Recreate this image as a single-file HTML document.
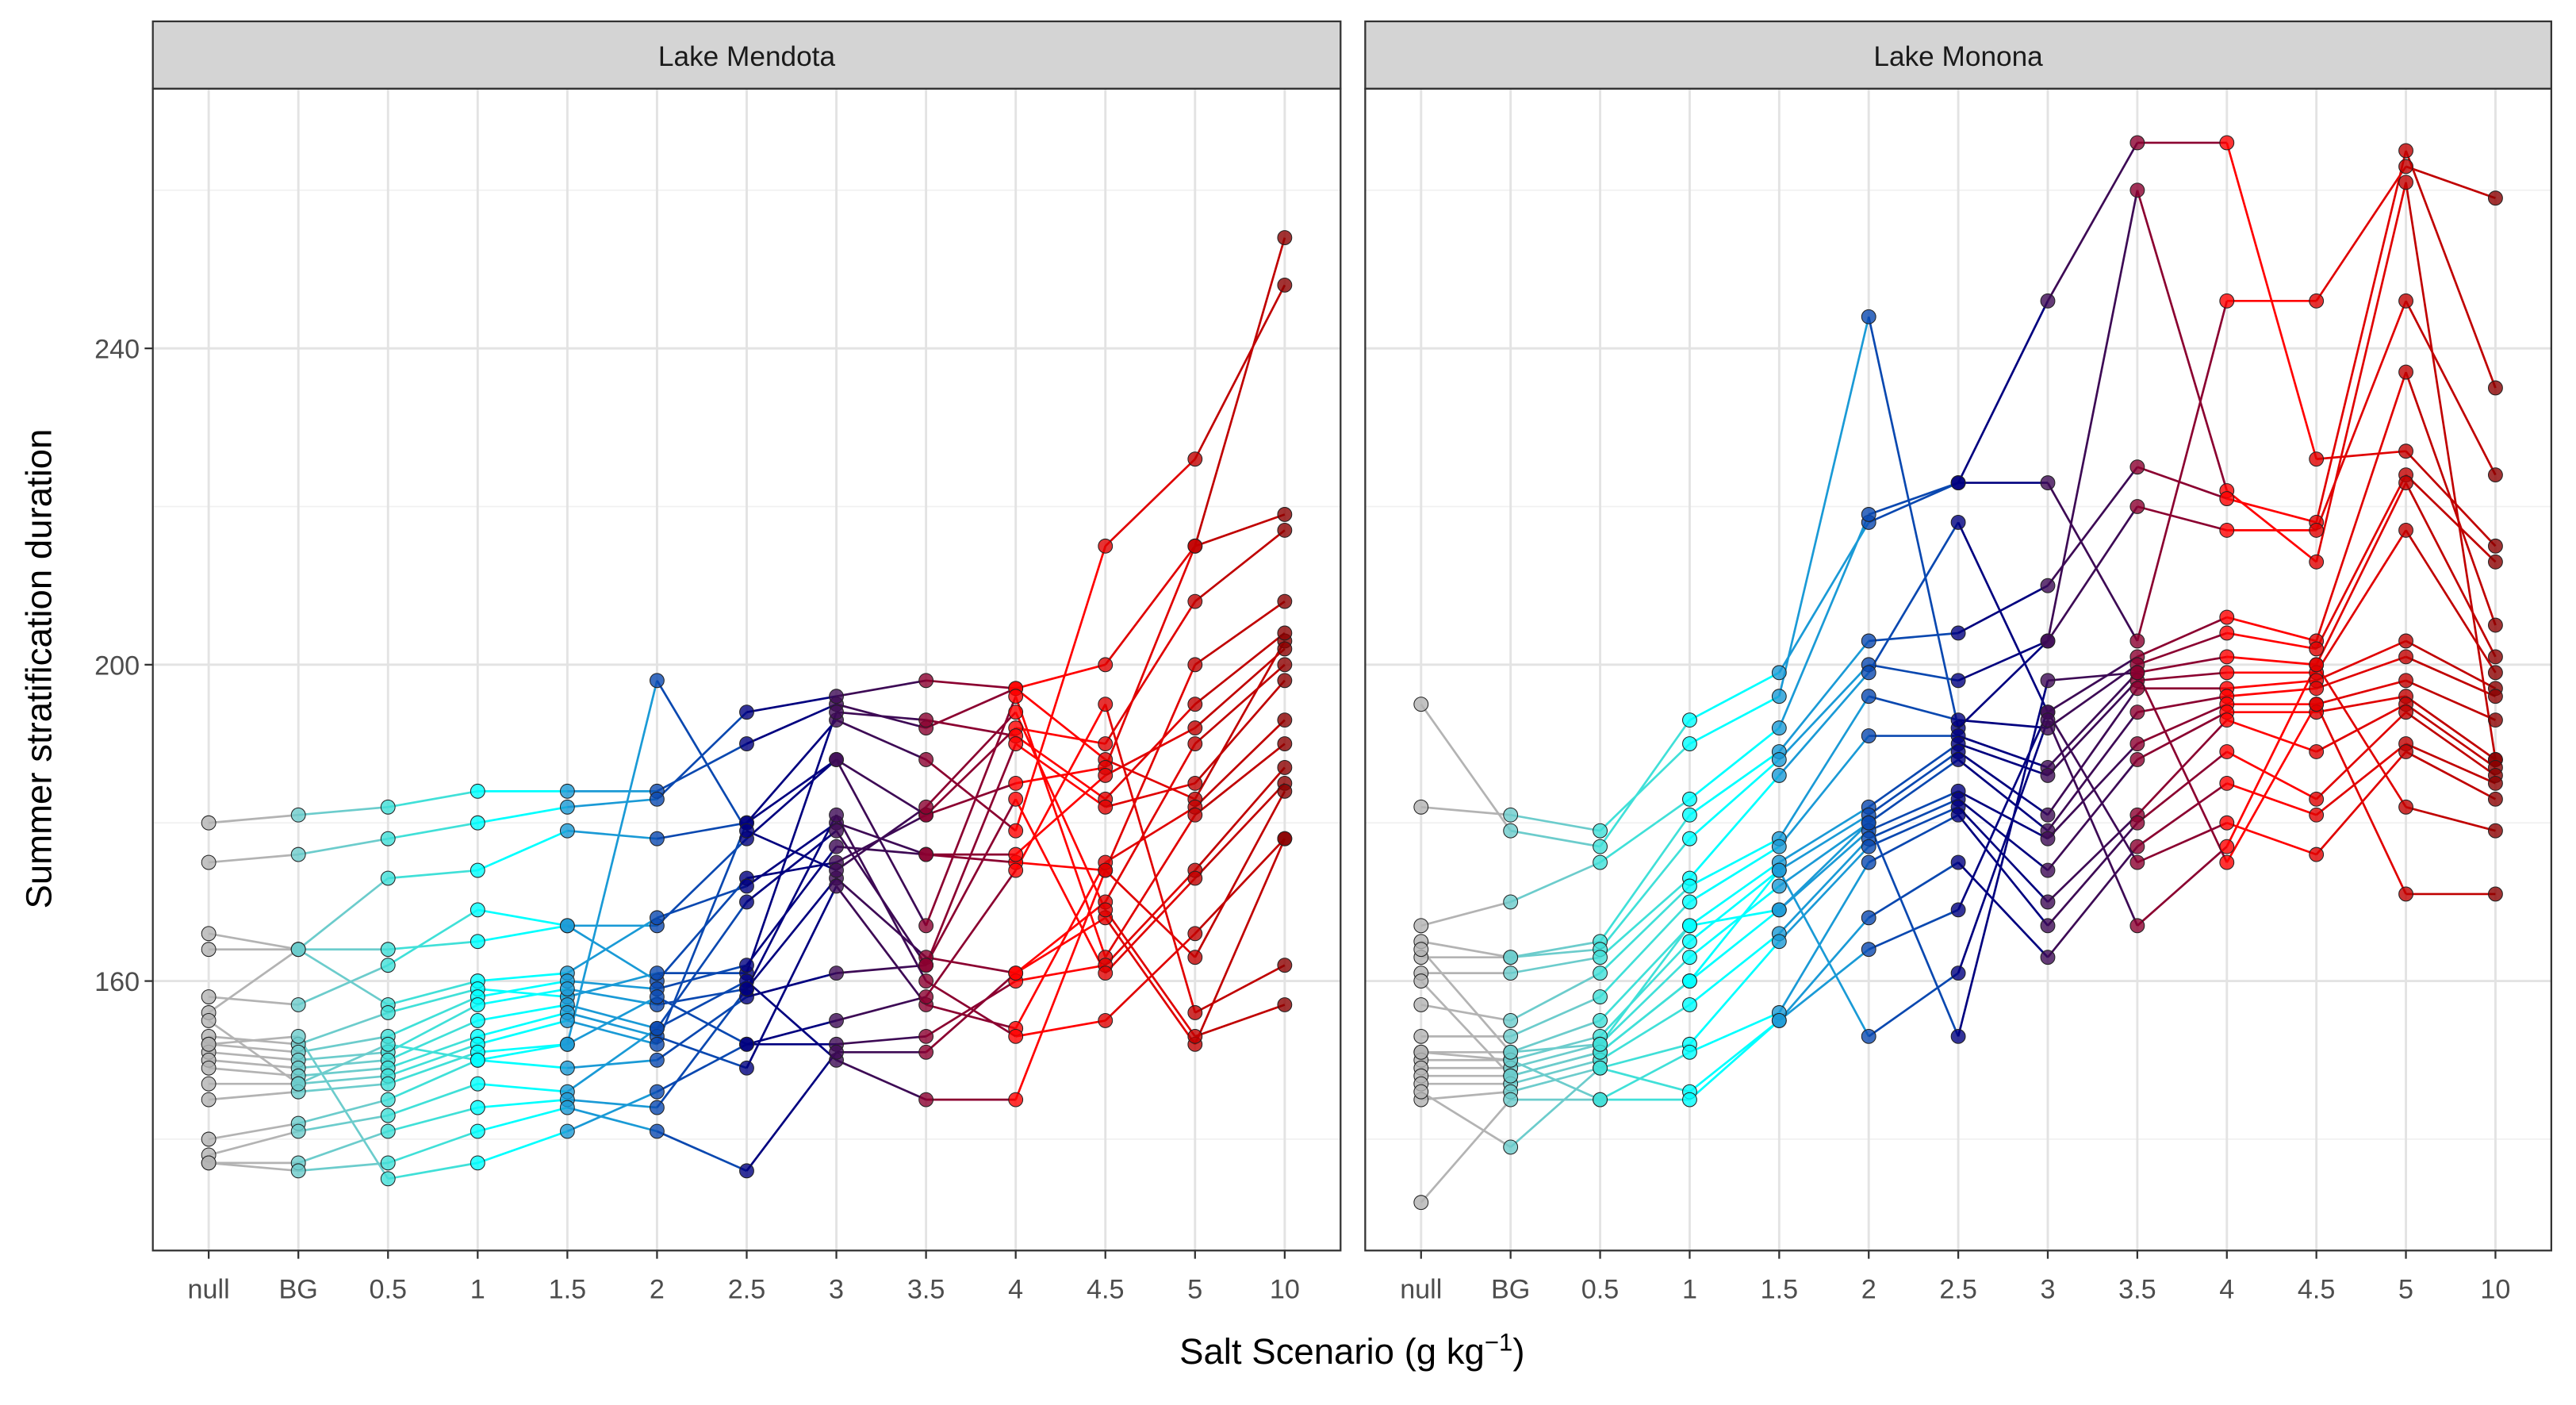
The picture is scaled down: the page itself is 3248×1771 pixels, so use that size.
<!DOCTYPE html>
<html><head><meta charset="utf-8"><style>
html,body{margin:0;padding:0;background:#fff}
svg{display:block;font-family:"Liberation Sans",Arial,sans-serif}
</style></head><body>
<svg id="chart" width="3248" height="1771" viewBox="0 0 1568 855" xmlns="http://www.w3.org/2000/svg">
<g id="root"></g>
</svg>
<script>
const categories = ["null","BG","0.5","1","1.5","2","2.5","3","3.5","4","4.5","5","10"];
const catColors = ["#b3b3b3","#6ccccc","#40e0d8","#00ffff","#1a9ad6","#0a48b0","#00007f","#3d0a55","#8b0030","#ff0000","#e00000","#c00000","#8b0000"];
const yTicks = [160,200,240];
const yMinor = [140,180,220,260];
const panelTitles = ["Lake Mendota","Lake Monona"];
const mendota = [
[180,181,182,184,184,184,190,195,192,197,188,183,203],
[175,176,178,180,182,183,194,196,198,197,200,215,254],
[166,164,173,174,179,178,180,193,188,179,215,226,248],
[164,164,164,165,167,167,178,188,181,185,187,215,219],
[158,157,162,169,167,160,173,175,181,192,190,208,217],
[156,164,157,160,161,168,172,180,176,175,174,200,208],
[153,152,156,159,158,161,161,194,193,191,183,195,204],
[152,151,153,158,160,159,162,177,176,176,186,192,202],
[151,150,151,157,159,157,159,173,163,161,170,190,200],
[150,149,150,155,157,154,170,179,162,190,182,185,198],
[149,148,149,153,156,153,149,172,157,154,175,182,193],
[147,147,148,152,155,152,180,188,167,196,163,181,190],
[145,146,147,151,152,158,152,152,153,160,162,174,187],
[140,142,145,150,149,150,158,161,162,183,161,173,185],
[138,141,143,147,146,154,160,150,145,145,174,163,184],
[137,137,141,144,145,144,159,181,160,153,155,166,178],
[137,136,137,141,144,141,136,151,151,161,168,152,178],
[152,153,135,137,141,146,152,155,158,174,195,156,162],
[155,147,152,150,152,198,179,174,182,194,169,153,157]
];
const monona = [
[195,179,177,193,199,218,223,246,266,266,226,227,215],
[182,181,179,190,196,244,192,203,260,222,213,261,188],
[167,170,175,183,192,219,223,223,203,246,246,263,259],
[165,163,165,181,189,203,204,210,225,221,218,265,235],
[163,163,164,178,188,200,198,203,220,217,217,246,224],
[161,161,163,173,186,199,218,194,201,206,203,237,205],
[157,155,161,172,178,196,193,192,200,204,202,224,213],
[153,153,158,170,177,191,191,187,199,201,200,223,201],
[151,151,155,167,175,182,190,186,198,199,199,217,199],
[150,150,153,165,174,181,189,181,197,197,198,203,197],
[149,149,152,163,172,180,188,179,194,196,197,201,196],
[148,148,151,160,169,179,184,178,190,195,195,198,193],
[147,147,150,157,166,178,183,174,188,194,194,196,188],
[145,146,149,152,165,177,182,170,181,193,189,195,187],
[132,145,145,151,156,175,181,167,180,189,183,194,186],
[146,139,149,146,155,168,175,163,177,185,181,190,185],
[151,150,145,145,155,164,169,194,175,180,176,189,183],
[160,148,151,160,174,153,161,193,167,177,200,182,179],
[164,151,152,167,169,180,153,198,199,175,195,171,171]
];
const NS="http://www.w3.org/2000/svg";
const root=document.getElementById('root');
function mk(tag,attrs,parent){const e=document.createElementNS(NS,tag);for(const k in attrs)e.setAttribute(k,attrs[k]);(parent||root).appendChild(e);return e;}
const plotTop=54,plotBottom=761;
function yScale(v){return 597-(v-160)*4.8125;}
const panels=[{x0:93,x1:816,data:mendota},{x0:831,x1:1553,data:monona}];
panels.forEach((p,pi)=>{
  const g=mk('g',{});
  
  
  const step=(p.x1-p.x0-68)/12;
  const xScale=i=>p.x0+34+i*step;
  const strip=mk('rect',{x:p.x0,y:13,width:p.x1-p.x0,height:plotTop-13,fill:'#d4d4d4',stroke:'#333',"stroke-width":1.1},g);
  
  
  const st=mk('text',{x:(p.x0+p.x1)/2,y:40,"text-anchor":"middle","font-size":17,fill:'#1a1a1a'},g);
  st.textContent=panelTitles[pi];
  
  
  yMinor.forEach(v=>{const y=yScale(v);if(y>plotTop&&y<plotBottom){const l=mk('line',{x1:p.x0,x2:p.x1,y1:y,y2:y,stroke:'#f0f0f0',"stroke-width":0.8},g);}});
  yTicks.forEach(v=>{const y=yScale(v);const l=mk('line',{x1:p.x0,x2:p.x1,y1:y,y2:y,stroke:'#e3e3e3',"stroke-width":1.4},g);});
  categories.forEach((c,i)=>{const x=xScale(i);const l=mk('line',{x1:x,x2:x,y1:plotTop,y2:plotBottom,stroke:'#e3e3e3',"stroke-width":1.4},g);
    const t=mk('line',{x1:x,x2:x,y1:plotBottom,y2:plotBottom+5,stroke:'#333',"stroke-width":1.1},g);
    const tl=mk('text',{x:x,y:790,"text-anchor":"middle","font-size":16.5,fill:'#4d4d4d'},g);tl.textContent=c;});
  if(pi===0){yTicks.forEach(v=>{const y=yScale(v);const t=mk('line',{x1:p.x0-5,x2:p.x0,y1:y,y2:y,stroke:'#333',"stroke-width":1.1},g);
    const tl=mk('text',{x:p.x0-8,y:y+6,"text-anchor":"end","font-size":16.5,fill:'#4d4d4d'},g);tl.textContent=v;});}
  p.data.forEach((s,si)=>{
    for(let i=0;i<s.length-1;i++){
      const l=mk('line',{x1:xScale(i),y1:yScale(s[i]),x2:xScale(i+1),y2:yScale(s[i+1]),stroke:catColors[i],"stroke-width":1.3},g);
      
      
    }
  });
  p.data.forEach((s,si)=>{
    s.forEach((v,i)=>{
      const c=mk('circle',{cx:xScale(i),cy:yScale(v),r:4.3,fill:catColors[i],"fill-opacity":0.8,stroke:'#222',"stroke-width":0.5},g);
      
      
    });
  });
  const fr=mk('rect',{x:p.x0,y:plotTop,width:p.x1-p.x0,height:plotBottom-plotTop,fill:'none',stroke:'#333',"stroke-width":1.1},g);
  
  
});
const xt=mk('text',{x:823,y:830,"text-anchor":"middle","font-size":22,fill:'#000'});
xt.innerHTML='Salt Scenario (g kg<tspan dy="-8" font-size="15">−1</tspan><tspan dy="8">)</tspan>';


const yt=mk('text',{x:0,y:0,"text-anchor":"middle","font-size":22,fill:'#000',transform:'translate(31,407) rotate(-90)'});
yt.textContent='Summer stratification duration';


</script>
</body></html>
